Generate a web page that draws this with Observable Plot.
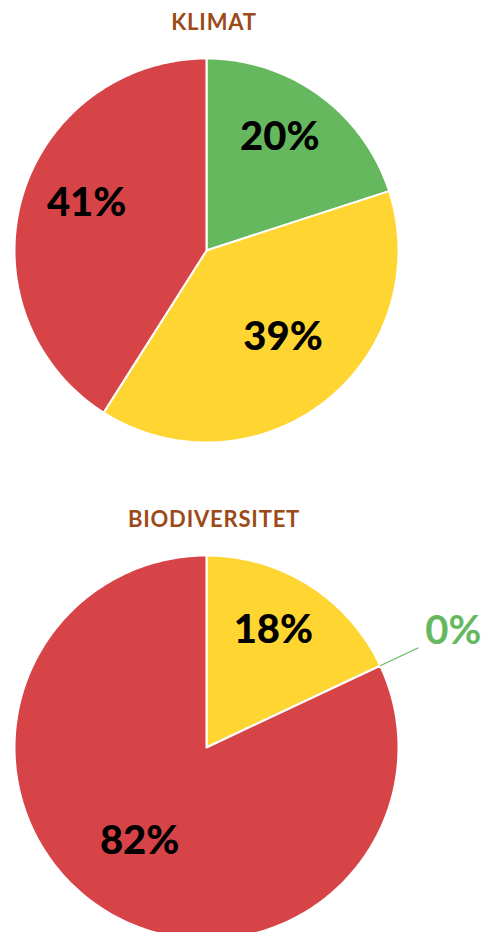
<!DOCTYPE html>
<html><head><meta charset="utf-8">
<script src="https://cdn.jsdelivr.net/npm/d3@7"></script>
<script src="https://cdn.jsdelivr.net/npm/@observablehq/plot@0.6"></script>
<style>
body{margin:0;background:#fff;}
#wrap{position:relative;width:484px;height:932px;overflow:hidden;font-family:Lato,"Noto Sans",sans-serif;}
.title{position:absolute;left:0;width:428px;text-align:center;font-size:22px;line-height:22px;font-weight:700;color:#9b4a18;letter-spacing:0.8px;}
.chart{position:absolute;left:0;}
</style></head>
<body><div id="wrap"></div>
<script>
// Data
const titles = ["KLIMAT", "BIODIVERSITET"];
const categories = ["god", "medel", "dålig"];
const klimatValues = [20, 39, 41];
const biodivValues = [0, 18, 82];
const seriesOrder = [["god", "medel", "dålig"], ["medel", "god", "dålig"]];
const colorRange = ["#66b85f", "#fed531", "#d64448"];

const wrap = document.getElementById("wrap");

function pieChart(values, order) {
  const byCat = new Map(categories.map((c, i) => [c, values[i]]));
  const items = order.map(c => ({cat: c, value: byCat.get(c)}));
  const arcs = d3.pie().sort(null).value(d => d.value)(items);
  const polys = [];
  const labels = [];
  const leaders = [];
  for (const a of arcs) {
    const {cat, value} = a.data;
    const mid = (a.startAngle + a.endAngle) / 2;
    if (value > 0) {
      const steps = Math.max(2, Math.ceil((a.endAngle - a.startAngle) / (Math.PI / 180)));
      polys.push({cat, x: 0, y: 0});
      for (let i = 0; i <= steps; i++) {
        const t = a.startAngle + (a.endAngle - a.startAngle) * i / steps;
        polys.push({cat, x: Math.sin(t), y: Math.cos(t)});
      }
      polys.push({cat, x: 0, y: 0});
      labels.push({cat, text: value + "%", x: 0.65 * Math.sin(mid), y: 0.65 * Math.cos(mid)});
    } else {
      leaders.push({cat, x1: 1.0 * Math.sin(mid), y1: 1.0 * Math.cos(mid), x2: 1.22 * Math.sin(mid), y2: 1.22 * Math.cos(mid)});
      labels.push({cat, text: value + "%", x: 1.42 * Math.sin(mid), y: 1.42 * Math.cos(mid), zero: true});
    }
  }
  return Plot.plot({
    width: 484, height: 400,
    marginLeft: 14, marginRight: 86, marginTop: 8, marginBottom: 8,
    x: {domain: [-1, 1], axis: null},
    y: {domain: [-1, 1], axis: null},
    color: {domain: categories, range: colorRange},
    marks: [
      Plot.line(polys, {x: "x", y: "y", z: "cat", fill: "cat", stroke: "#fff", strokeWidth: 2, strokeLinejoin: "round", curve: "linear"}),
      Plot.link(leaders, {x1: "x1", y1: "y1", x2: "x2", y2: "y2", stroke: "cat", strokeWidth: 1.2}),
      Plot.text(labels.filter(d => !d.zero), {x: "x", y: "y", dy: -12, text: "text", fill: "#000", fontSize: 40, fontWeight: 900, fontFamily: "Lato"}),
      Plot.text(labels.filter(d => d.zero), {x: "x", y: "y", text: "text", fill: "cat", fontSize: 40, fontWeight: 700, fontFamily: "Lato"})
    ]
  });
}

function addTitle(text, top) {
  const d = document.createElement("div");
  d.className = "title";
  d.style.top = top + "px";
  d.textContent = text;
  wrap.appendChild(d);
}
function addChart(node, top) {
  node.classList.add("chart");
  node.style.top = top + "px";
  wrap.appendChild(node);
}

addTitle(titles[0], 11);
addChart(pieChart(klimatValues, seriesOrder[0]), 50);
addTitle(titles[1], 508);
addChart(pieChart(biodivValues, seriesOrder[1]), 547);
</script></body></html>
